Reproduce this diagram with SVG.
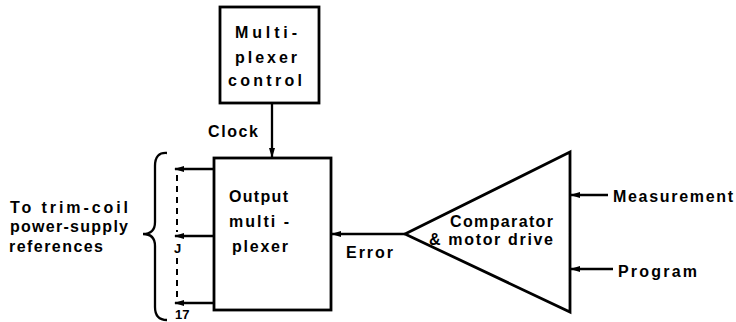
<svg xmlns="http://www.w3.org/2000/svg" width="736" height="322" viewBox="0 0 736 322">
  <style>
    .box { fill: none; stroke: #000; stroke-width: 2.8; }
    .wire { fill: none; stroke: #000; stroke-width: 2.3; }
    .dash { fill: none; stroke: #000; stroke-width: 2; stroke-dasharray: 6 5; }
    .lbl { font-family: "Liberation Sans", Arial, sans-serif; font-weight: bold; font-size: 16px; fill: #000; }
    .sm { font-family: "Liberation Sans", Arial, sans-serif; font-weight: bold; font-size: 13px; fill: #000; }
  </style>
  <defs>
    <marker id="arrow" markerUnits="userSpaceOnUse" markerWidth="10" markerHeight="8" refX="9" refY="4" orient="auto">
      <path d="M0,1 L10,4 L0,7 Z" fill="#000"/>
    </marker>
  </defs>
  <rect width="736" height="322" fill="#fff"/>

  <!-- Multiplexer control block -->
  <g id="mux-control">
    <rect class="box" x="220" y="7" width="99" height="96"/>
    <text class="lbl" x="235" y="38" textLength="62" lengthAdjust="spacing">Multi-</text>
    <text class="lbl" x="235" y="63" textLength="62" lengthAdjust="spacing">plexer</text>
    <text class="lbl" x="228" y="86" textLength="74" lengthAdjust="spacing">control</text>
  </g>

  <!-- Output multiplexer block -->
  <g id="output-mux">
    <rect class="box" x="214" y="158" width="117" height="152"/>
    <text class="lbl" x="229" y="202" textLength="59" lengthAdjust="spacing">Output</text>
    <text class="lbl" x="229" y="227" textLength="60" lengthAdjust="spacing">multi -</text>
    <text class="lbl" x="232" y="252" textLength="56" lengthAdjust="spacing">plexer</text>
  </g>

  <!-- Comparator and motor drive amplifier -->
  <g id="comparator">
    <polygon class="box" points="405,234 570,152 570,312"/>
    <text class="lbl" x="450" y="227" textLength="103" lengthAdjust="spacing">Comparator</text>
    <text class="lbl" x="429" y="245" textLength="124" lengthAdjust="spacing">&amp; motor drive</text>
  </g>

  <!-- Destination group with brace -->
  <g id="trim-coil-refs">
    <path class="wire" d="M167,153 Q155,152 155,166 L155,222 Q155,234 143,234 Q155,234 155,246 L155,307 Q155,320 167,320"/>
    <text class="lbl" x="10" y="213" textLength="118" lengthAdjust="spacing">To trim-coil</text>
    <text class="lbl" x="10" y="232" textLength="118" lengthAdjust="spacing">power-supply</text>
    <text class="lbl" x="9" y="252" textLength="94" lengthAdjust="spacing">references</text>
    <text class="sm" x="174" y="253">J</text>
    <text class="sm" x="175" y="319">17</text>
  </g>

  <!-- Input labels -->
  <g id="inputs">
    <text class="lbl" x="613" y="202" textLength="120" lengthAdjust="spacing">Measurement</text>
    <text class="lbl" x="618" y="277" textLength="79" lengthAdjust="spacing">Program</text>
  </g>

  <!-- Connectors -->
  <g id="connectors">
    <line class="wire" x1="272" y1="103" x2="272" y2="157" marker-end="url(#arrow)"/>
    <text class="lbl" x="208" y="137" textLength="50" lengthAdjust="spacing">Clock</text>

    <line class="wire" x1="405" y1="234" x2="332" y2="234" marker-end="url(#arrow)"/>
    <text class="lbl" x="346" y="258" textLength="47" lengthAdjust="spacing">Error</text>

    <line class="wire" x1="608" y1="195" x2="571" y2="195" marker-end="url(#arrow)"/>
    <line class="wire" x1="613" y1="269" x2="571" y2="269" marker-end="url(#arrow)"/>

    <line class="wire" x1="214" y1="169" x2="175" y2="169" marker-end="url(#arrow)"/>
    <line class="wire" x1="214" y1="236" x2="175" y2="236" marker-end="url(#arrow)"/>
    <line class="wire" x1="214" y1="303" x2="175" y2="303" marker-end="url(#arrow)"/>
    <line class="dash" x1="177" y1="175" x2="177" y2="232"/>
    <line class="dash" x1="177" y1="258" x2="177" y2="299"/>
  </g>
</svg>
